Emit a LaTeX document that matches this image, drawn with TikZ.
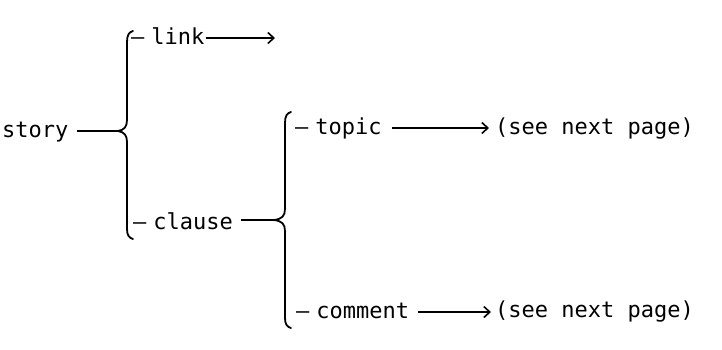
\documentclass[tikz,border=0pt]{standalone}
\usepackage{fontspec}
\newfontfamily\plotfont{DejaVu Sans Mono}
\usetikzlibrary{arrows.meta}
\newcommand{\dsh}{–\hspace{7pt}}
\begin{document}
\begin{tikzpicture}[x=1pt,y=-1pt,
  lbl/.style={inner sep=0pt,anchor=base west,font=\plotfont\fontsize{22}{22}\selectfont},
  ln/.style={line width=1.6pt},
  arr/.style={ln,-{Straight Barb[length=6pt,width=11pt,line width=1.6pt]}},
  brc/.style={line width=1.8pt,line cap=round,line join=round}]
\useasboundingbox (0,0) rectangle (722,349);
% nodes (baseline = centre line + 6)
\node[lbl] (story) at (2,137) {story};
\node[lbl] (link) at (131,44) {\dsh link};
\node[lbl] (clause) at (133,229) {\dsh clause};
\node[lbl] (topic) at (295,134) {\dsh topic};
\node[lbl] (comment) at (296,318) {\dsh comment};
\node[lbl] (see1) at (495,134) {(see next page)};
\node[lbl] (see2) at (495,317) {(see next page)};
\coordinate (b1tip) at (118,131);
\coordinate (b2tip) at (274,220);
\coordinate (linkend) at (275,38);
\coordinate (see1in) at (489,128);
\coordinate (see2in) at (491,312);
% braces
\draw[brc] (133,31) .. controls (129,32) and (127,35) .. (127,42)
  -- (127,120) .. controls (127,127) and (124,130) .. (b1tip)
  .. controls (124,132) and (127,135) .. (127,142)
  -- (127,229) .. controls (127,235) and (129,238) .. (133,239);
\draw[brc] (291,112) .. controls (287,113) and (285,116) .. (285,123)
  -- (285,209) .. controls (285,216) and (282,219) .. (b2tip)
  .. controls (282,221) and (285,224) .. (285,231)
  -- (285,318) .. controls (285,324) and (287,327) .. (291,328);
% connectors
\draw[ln] (story.base east) ++(8,-6) -- (b1tip);
\draw[arr] (link.base east) ++(1,-6) -- (linkend);
\draw[ln] (clause.base east) ++(8,-9) -- (b2tip);
\draw[arr] (topic.base east) ++(10,-6) -- (see1in);
\draw[arr] (comment.base east) ++(9,-6) -- (see2in);
\end{tikzpicture}
\end{document}
